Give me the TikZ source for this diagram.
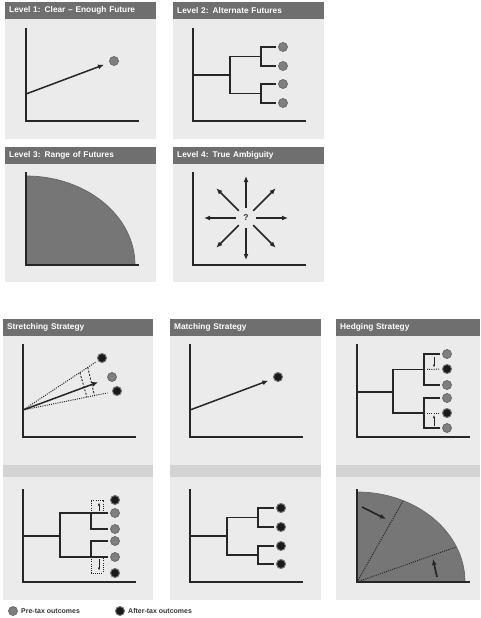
\documentclass[tikz,border=0pt]{standalone}
\usepackage{fontspec}
\setmainfont{Liberation Sans}
\usetikzlibrary{arrows.meta,calc}
\definecolor{panelbg}{HTML}{EBEBEB}
\definecolor{headbg}{HTML}{6F6F6F}
\definecolor{bandbg}{HTML}{D3D3D3}
\definecolor{pregray}{HTML}{7F7F7F}
\definecolor{areagray}{HTML}{767676}

\begin{document}
\begin{tikzpicture}[
    x=1pt, y=-1pt,
    panel/.style={fill=panelbg},
    head/.style={fill=headbg, text=white, anchor=north west, font=\bfseries\fontsize{8.3}{9}\selectfont, text width=143pt, inner xsep=4pt, inner ysep=0pt, minimum height=17pt},
    axis/.style={draw=black!85, line width=1.8pt},
    branch/.style={draw=black!85, line width=1.5pt},
    arr/.style={draw=black!85, line width=1.5pt, -{Latex[length=6pt,width=5pt]}},
    small/.style={draw=black!85, line width=0.7pt, -{Latex[length=3pt,width=2.5pt]}},
    guide/.style={draw=black!85, line width=1pt, dash pattern=on 1pt off 1.2pt},
    split/.style={draw=black!85, line width=0.9pt, dash pattern=on 2pt off 1.5pt},
    pre/.style={circle, fill=pregray, draw=black!60, line width=0.7pt, minimum size=9pt, inner sep=0pt, outer sep=2.2pt},
    post/.style={pre, fill=black!90, draw=black!55, line width=1pt},
    area/.style={fill=areagray, draw=black!60, line width=0.7pt},
    key/.style={anchor=west, inner sep=0pt, font=\bfseries\fontsize{7}{8}\selectfont, text=black!80}
]
  \useasboundingbox (0,0) rectangle (480,618);

  \foreach \x/\y/\X/\Y in {5/2/156/139, 173/2/324/139, 5/147/156/282, 173/147/324/282,
                           3/319/153/600, 170/319/321/600, 336/319/480/600}
    \fill[panel] (\x,\y) rectangle (\X,\Y);
  \foreach \x/\X in {3/153, 170/321, 336/480}
    \fill[bandbg] (\x,465) rectangle (\X,477);

  \node[head] (h1) at (5,2) {Level 1: Clear – Enough Future};
  \node[head] (h2) at (173,2) {Level 2: Alternate Futures};
  \node[head] (h3) at (5,147) {Level 3: Range of Futures};
  \node[head] (h4) at (173,147) {Level 4: True Ambiguity};
  \node[head, text width=142pt] (h5) at (3,319) {Stretching Strategy};
  \node[head] (h6) at (170,319) {Matching Strategy};
  \node[head, text width=136pt] (h7) at (336,319) {Hedging Strategy};

  \draw[area] (26,265) -- (135,265) arc[start angle=0, end angle=-90, x radius=109, y radius=89] -- cycle;
  \coordinate (z) at (357,582);
  \draw[area] (z) -- (465,582) arc[start angle=0, end angle=-90, x radius=108, y radius=90] -- cycle;

  \foreach \x/\y in {26/28, 193/28, 26/172, 193/172, 23/344, 190/344, 357/344, 23/489, 190/489, 357/489}
    \draw[axis] (\x,\y) |- ++(113,93);

  \coordinate (o1) at (26,94);
  \node[pre] (l1) at (114,61) {};
  \draw[arr, shorten >=4pt] (o1) -- (l1);

  \foreach \i/\y in {1/47, 2/66, 3/84, 4/103}
    \node[pre] (a\i) at (283,\y) {};
  \coordinate (b1) at (261,56.5);
  \coordinate (b2) at (261,93.5);
  \coordinate (c2) at (230,75);
  \coordinate (r2) at (193,75);
  \draw[branch] (a1) -| (b1) |- (a2);
  \draw[branch] (a3) -| (b2) |- (a4);
  \draw[branch] (b1) -| (c2) |- (b2);
  \draw[branch] (r2) -- (c2);

  \node[circle, minimum size=20pt, inner sep=0pt, font=\bfseries\fontsize{8.5}{9}\selectfont, text=black!80] (q) at (246,218) {?};
  \foreach \a in {0,45,...,315}
    \draw[arr] (q.\a) -- ([shift={(\a:42pt)}]q.center);

  \coordinate (o5) at (23,410);
  \node[post] (s1) at (102,358) {};
  \node[pre] (s2) at (112,377) {};
  \node[post] (s3) at (117,391) {};
  \draw[guide] (o5) -- (s1);
  \draw[guide, shorten >=3pt] (o5) -- (s3);
  \draw[split] ($(o5)!0.72!(s1)$) -- ($(o5)!0.68!(s3)$);
  \draw[split] ($(o5)!0.82!(s1)$) -- ($(o5)!0.76!(s3)$);
  \draw[arr, shorten >=8pt] (o5) -- (s2);

  \coordinate (o6) at (190,410);
  \node[post] (m1) at (278,377) {};
  \draw[arr, shorten >=3.5pt] (o6) -- (m1);

  \foreach \i/\y/\kind in {1/354/pre, 2/369/post, 3/385/pre, 4/398/pre, 5/413/post, 6/428/pre}
    \node[\kind] (e\i) at (447,\y) {};
  \coordinate (f1) at (424,369.5);
  \coordinate (f2) at (424,413);
  \coordinate (g7) at (393,392);
  \coordinate (r7) at (357,392);
  \draw[branch] (e1) -| (f1) |- (e3);
  \draw[branch] (e4) -| (f2) |- (e6);
  \draw[branch] (f1) -| (g7) |- (f2);
  \draw[branch] (r7) -- (g7);
  \draw[guide, shorten <=3pt, shorten >=1pt] (f1) -- (e2);
  \draw[guide, shorten <=3pt, shorten >=1pt] (f2) -- (e5);
  \draw[small] (434,357) -- (434,367.5);
  \draw[small] (434,426) -- (434,415);

  \foreach \i/\y/\kind in {1/500/post, 2/513/pre, 3/529/pre, 4/541/pre, 5/557/pre, 6/573/post}
    \node[\kind] (t\i) at (115,\y) {};
  \coordinate (u1) at (91,513);
  \coordinate (u2) at (91,557);
  \coordinate (k8) at (60,536);
  \coordinate (r8) at (23,536);
  \draw[guide, line width=0.8pt] (u1) rectangle (103,500);
  \draw[guide, line width=0.8pt] (u2) rectangle (103,573);
  \draw[branch] (t2) -| (k8) |- (t5);
  \draw[branch] (u1) |- (t3);
  \draw[branch] (u2) |- (t4);
  \draw[branch] (r8) -- (k8);
  \draw[small] (99,511) -- (99,502.5);
  \draw[small] (99,559) -- (99,570.5);

  \foreach \i/\y in {1/508, 2/527, 3/546, 4/564}
    \node[post] (n\i) at (281,\y) {};
  \coordinate (v1) at (258,517.5);
  \coordinate (v2) at (258,555);
  \coordinate (w9) at (227,536);
  \coordinate (r9) at (190,536);
  \draw[branch] (n1) -| (v1) |- (n2);
  \draw[branch] (n3) -| (v2) |- (n4);
  \draw[branch] (v1) -| (w9) |- (v2);
  \draw[branch] (r9) -- (w9);

  \coordinate (p1) at (403,501);
  \coordinate (p2) at (456,547);
  \draw[guide] (z) -- (p1);
  \draw[guide] (z) -- (p2);
  \draw[arr, line width=1.7pt] (362,507) -- (386,519);
  \draw[arr, line width=1.7pt] (437,577) -- (433,559);

  \node[pre, minimum size=9pt] (k1) at (13,611) {};
  \node[key] (k1t) at (21,611) {Pre-tax outcomes};
  \node[post, minimum size=9pt] (k2) at (120,611) {};
  \node[key] (k2t) at (128,611) {After-tax outcomes};
\end{tikzpicture}
\end{document}
